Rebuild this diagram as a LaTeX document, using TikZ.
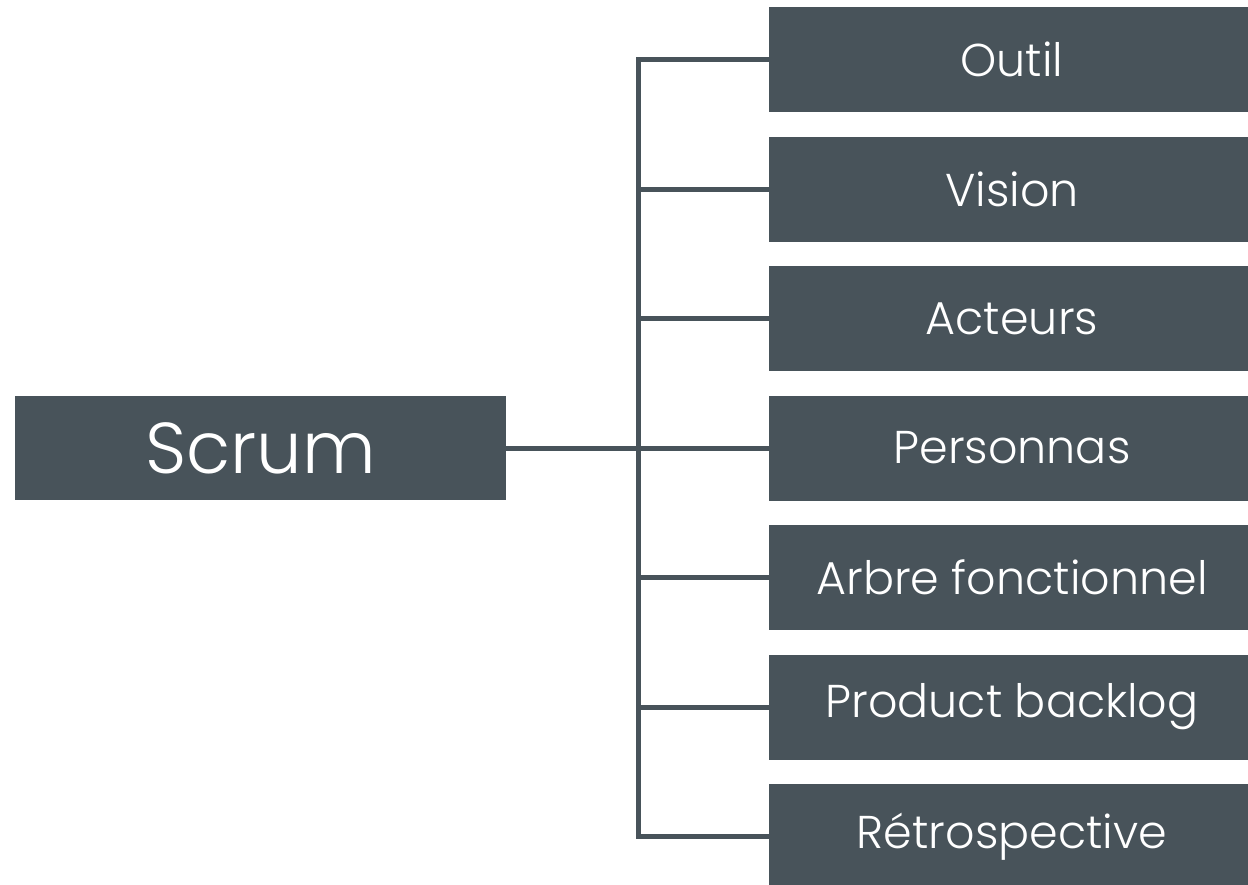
\documentclass[tikz,border=0pt]{standalone}
\usepackage{fontspec}
\setmainfont{Poppins}[UprightFont={* Light}]
\definecolor{slate}{RGB}{72,83,90}
\tikzset{
  leaf/.style={fill=slate, draw=none, text=white, minimum width=486pt, minimum height=105pt, inner sep=0pt, font=\fontsize{46}{50}\selectfont},
  root/.style={fill=slate, draw=none, text=white, minimum width=491pt, minimum height=104pt, inner sep=0pt, font=\fontsize{72}{76}\selectfont},
  conn/.style={draw=slate, line width=5pt, line join=miter}
}
\begin{document}
\begin{tikzpicture}[x=1pt,y=-1pt]
\useasboundingbox (0,0) rectangle (1248,884);
\clip (0,0) rectangle (1248,884);
\node[root] (scrum) at (260.5,448) {Scrum};
\node[leaf] (b1) at (1012,59.5) {Outil};
\node[leaf] (b2) at (1012,189) {Vision};
\node[leaf] (b3) at (1012,318.5) {Acteurs};
\node[leaf] (b4) at (1012,448) {Personnas};
\node[leaf] (b5) at (1012,577.5) {Arbre fonctionnel};
\node[leaf] (b6) at (1012,707) {Product backlog};
\node[leaf] (b7) at (1012,836.5) {Rétrospective};
\coordinate (top) at (638,59.5);
\coordinate (bot) at (638,836.5);
\draw[conn] (b1.west) -- (top) -- (bot) -- (b7.west);
\draw[conn] (scrum.east) -- (b4.west);
\foreach \i in {2,3,5,6} {
  \draw[conn] (b\i.west) -- (top |- b\i.west);
}
\end{tikzpicture}
\end{document}
